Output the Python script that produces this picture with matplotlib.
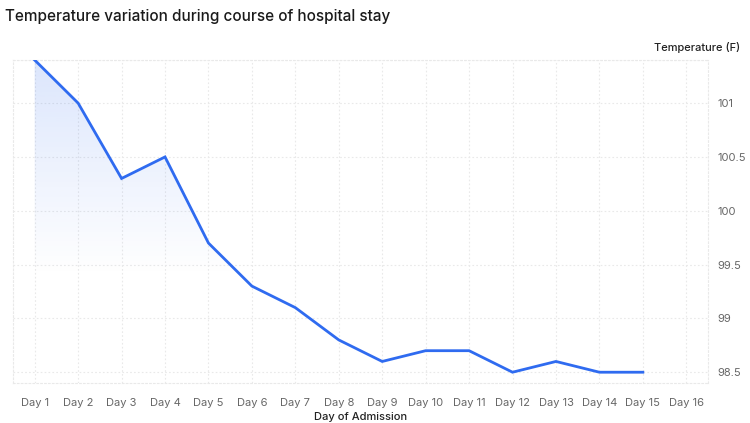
import numpy as np
import matplotlib.pyplot as plt
from matplotlib.patches import Polygon

plt.rcParams['font.family'] = ['Inter', 'DejaVu Sans']

days = ['Day %d' % i for i in range(1, 17)]
temps = [101.4, 101.0, 100.3, 100.5, 99.7, 99.3, 99.1, 98.8, 98.6, 98.7,
         98.7, 98.5, 98.6, 98.5, 98.5]
yticks = [98.5, 99, 99.5, 100, 100.5, 101]

line_color = '#2f6bf0'
grid_color = '#e9e9e9'

fig = plt.figure(figsize=(7.5, 4.23), dpi=100)
ax = fig.add_axes([0.0173, 0.0946, 0.9267, 0.7634])

x = np.arange(1, len(temps) + 1)
ymin, ymax = 98.4, 101.4
ax.set_xlim(0.5, 16.5)
ax.set_ylim(ymin, ymax)

# gradient fill under the line
grad = np.linspace(0, 1, 256)
rgba = np.zeros((256, 1, 4))
rgba[:, 0, 0] = 0x2f / 255
rgba[:, 0, 1] = 0x6b / 255
rgba[:, 0, 2] = 0xf0 / 255
rgba[:, 0, 3] = np.clip((grad - 0.33) / 0.67, 0, 1) * 0.17
im = ax.imshow(rgba, extent=[0.5, 16.5, ymin, ymax], origin='lower',
               aspect='auto', zorder=1)
verts = [(x[0], ymin)] + list(zip(x, temps)) + [(x[-1], ymin)]
clip = Polygon(verts, closed=True, facecolor='none', edgecolor='none')
ax.add_patch(clip)
im.set_clip_path(clip)

ax.plot(x, temps, color=line_color, linewidth=2.0, zorder=3,
        solid_joinstyle='miter')

# grid
for xi in range(1, 17):
    ax.axvline(xi, color=grid_color, linestyle=(0, (1.5, 2)), linewidth=0.8, zorder=0)
for yv in yticks + [101.4]:
    ax.axhline(yv, color=grid_color, linestyle=(0, (1.5, 2)), linewidth=0.8, zorder=0)
for s in ax.spines.values():
    s.set_visible(True)
    s.set_color(grid_color)
    s.set_linestyle((0, (1.5, 2)))
    s.set_linewidth(0.8)

ax.set_xticks(range(1, 17))
ax.set_xticklabels(days, fontsize=8, color='#666666')
ax.yaxis.tick_right()
ax.set_yticks(yticks)
ax.set_yticklabels(['98.5', '99', '99.5', '100', '100.5', '101'],
                   fontsize=8, color='#666666')
ax.tick_params(axis='both', length=0, pad=7)
ax.tick_params(axis='x', pad=11)

ax.set_xlabel('Day of Admission', fontsize=8, color='#222222', labelpad=3,
              fontweight='medium')
fig.text(0.987, 0.888, 'Temperature (F)', ha='right', va='center',
         fontsize=8, color='#222222', fontweight='medium')
fig.text(0.007, 0.96, 'Temperature variation during course of hospital stay',
         ha='left', va='center', fontsize=11, color='#1a1a1a',
         fontweight='medium')

fig.savefig('out.png', dpi=100)
